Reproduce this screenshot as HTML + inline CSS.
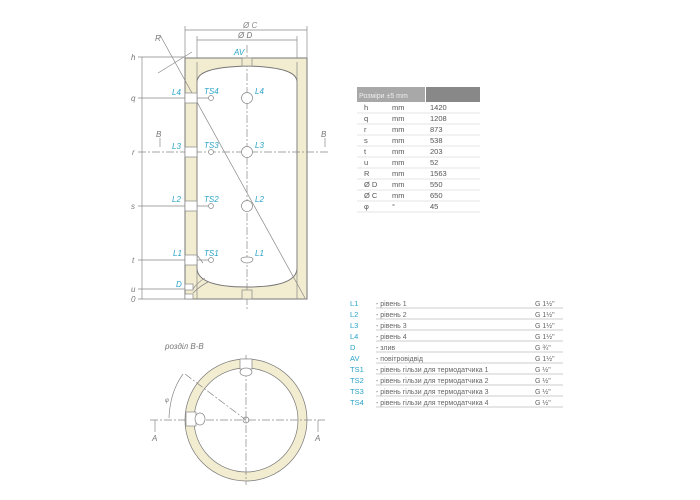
<!DOCTYPE html>
<html><head><meta charset="utf-8"><style>
body{margin:0;background:#fff;width:700px;height:500px;overflow:hidden}
svg{display:block}
text{font-family:"Liberation Sans","DejaVu Sans",sans-serif}
</style></head><body>
<svg width="700" height="500" viewBox="0 0 700 500" xmlns="http://www.w3.org/2000/svg">
<g stroke="#888" stroke-width="0.7" fill="none">
<!-- tank -->
<rect x="185" y="58" width="122" height="241" fill="#f2ecd0" stroke="#777" stroke-width="1"/>
<path d="M197,82 C197,72 212,67 247,66 C282,67 297,72 297,82 L297,268 C297,280 282,287 247,287 C212,287 197,280 197,268 Z" fill="#fff" stroke="#777" stroke-width="1"/>
<line x1="197" y1="62" x2="197" y2="299"/><line x1="297" y1="62" x2="297" y2="299"/>
<line x1="247" y1="45" x2="247" y2="310" stroke-dasharray="8,2,2,2"/>
<rect x="242" y="58" width="10" height="8" fill="#f2ecd0"/>
<rect x="242" y="290" width="10" height="9" fill="#f2ecd0"/>
<!-- dims -->
<line x1="185" y1="30" x2="307" y2="30"/><line x1="185" y1="26" x2="185" y2="58"/><line x1="307" y1="26" x2="307" y2="58"/>
<line x1="197" y1="40" x2="297" y2="40"/><line x1="197" y1="36" x2="197" y2="58"/><line x1="297" y1="36" x2="297" y2="58"/>
<line x1="160" y1="35" x2="305" y2="298"/>
<line x1="158" y1="73" x2="192" y2="52"/>
<line x1="142" y1="57" x2="142" y2="299"/>
<g>
<line x1="138" y1="57" x2="185" y2="57"/><line x1="138" y1="98" x2="210" y2="98"/>
<line x1="138" y1="152" x2="330" y2="152" stroke-dasharray="8,2,2,2"/>
<line x1="138" y1="206" x2="210" y2="206"/><line x1="138" y1="260" x2="210" y2="260"/>
<line x1="138" y1="289" x2="185" y2="289"/><line x1="138" y1="299" x2="185" y2="299"/>
</g>
<!-- side ports -->
<g fill="#fff">
<rect x="185" y="93" width="12" height="10"/><rect x="185" y="147" width="12" height="10"/>
<rect x="185" y="201" width="12" height="10"/><rect x="185" y="255" width="12" height="10"/>
<rect x="185" y="284" width="8" height="6"/><rect x="185" y="294" width="8" height="5"/>
<circle cx="211" cy="98" r="2.5"/><circle cx="211" cy="152" r="2.5"/><circle cx="211" cy="206" r="2.5"/><circle cx="211" cy="260" r="2.5"/>
<circle cx="247" cy="98" r="5.5"/><circle cx="247" cy="152" r="5.5"/><circle cx="247" cy="206" r="5.5"/>
<path d="M241,259 a6,4 0 0 0 12,0 a6,2 0 0 0 -12,0z"/>
</g>
<path d="M193,293 Q200,286 208,282 M193,289 Q198,282 205,278" />
<line x1="197" y1="255" x2="203" y2="263"/>
<!-- section circle -->
<circle cx="246" cy="420" r="61" fill="#f2ecd0" stroke="#777"/>
<circle cx="246" cy="420" r="52" fill="#fff" stroke="#777"/>
<circle cx="246" cy="420" r="3" fill="#fff"/>
<line x1="246" y1="355" x2="246" y2="485" stroke-dasharray="8,2,2,2"/>
<line x1="150" y1="420" x2="325" y2="420" stroke-dasharray="8,2,2,2"/>
<line x1="185" y1="374" x2="246" y2="420" stroke-dasharray="8,2,2,2"/>
<rect x="240" y="359" width="12" height="10" fill="#fff"/>
<ellipse cx="246" cy="372" rx="6" ry="4" fill="#fff"/>
<rect x="186" y="412" width="10" height="14" fill="#fff"/>
<ellipse cx="200" cy="419" rx="5" ry="6" fill="#fff"/>
<path d="M183,374 Q170,392 169,418"/>
<line x1="155" y1="420" x2="155" y2="432"/><line x1="318" y1="420" x2="318" y2="432"/>
<line x1="160" y1="138" x2="160" y2="147"/><line x1="325" y1="138" x2="325" y2="147"/>
</g>
<g font-size="8" font-style="italic" fill="#777">
<text x="243" y="28" fill="#888">Ø C</text><text x="238" y="38">Ø D</text>
<text x="155" y="41">R</text>
<text x="131" y="60">h</text><text x="131" y="101">q</text><text x="132" y="155">r</text>
<text x="131" y="209">s</text><text x="132" y="263">t</text><text x="131" y="292">u</text><text x="131" y="302">0</text>
<text x="156" y="137">B</text><text x="321" y="137">B</text>
<text x="152" y="441">A</text><text x="315" y="441">A</text>
<text x="165" y="349">розділ B-B</text>
<text x="165" y="402" font-size="6">φ</text>
</g>
<g font-size="8" font-style="italic" fill="#29a3c7">
<text x="234" y="55">AV</text>
<text x="172" y="95">L4</text><text x="204" y="94">TS4</text><text x="255" y="94">L4</text>
<text x="172" y="149">L3</text><text x="204" y="148">TS3</text><text x="255" y="148">L3</text>
<text x="172" y="202">L2</text><text x="204" y="202">TS2</text><text x="255" y="202">L2</text>
<text x="173" y="256">L1</text><text x="204" y="256">TS1</text><text x="255" y="256">L1</text>
<text x="176" y="287">D</text>
</g>
<!-- table -->
<rect x="357" y="87" width="68" height="15" fill="#a8a8a8"/>
<rect x="426" y="87" width="54" height="15" fill="#888"/>
<text x="359" y="98" font-size="7" fill="#eee">Розміри ±5 mm</text>
<g font-size="7.5" fill="#555">
<g stroke="#ccc" stroke-width="0.6">
<line x1="357" y1="113" x2="480" y2="113"/><line x1="357" y1="124" x2="480" y2="124"/><line x1="357" y1="135" x2="480" y2="135"/>
<line x1="357" y1="146" x2="480" y2="146"/><line x1="357" y1="157" x2="480" y2="157"/><line x1="357" y1="168" x2="480" y2="168"/>
<line x1="357" y1="179" x2="480" y2="179"/><line x1="357" y1="190" x2="480" y2="190"/><line x1="357" y1="201" x2="480" y2="201"/>
<line x1="357" y1="212" x2="480" y2="212"/>
</g>
<text x="364" y="110">h</text><text x="392" y="110">mm</text><text x="430" y="110">1420</text>
<text x="364" y="121">q</text><text x="392" y="121">mm</text><text x="430" y="121">1208</text>
<text x="364" y="132">r</text><text x="392" y="132">mm</text><text x="430" y="132">873</text>
<text x="364" y="143">s</text><text x="392" y="143">mm</text><text x="430" y="143">538</text>
<text x="364" y="154">t</text><text x="392" y="154">mm</text><text x="430" y="154">203</text>
<text x="364" y="165">u</text><text x="392" y="165">mm</text><text x="430" y="165">52</text>
<text x="364" y="176">R</text><text x="392" y="176">mm</text><text x="430" y="176">1563</text>
<text x="364" y="187">Ø D</text><text x="392" y="187">mm</text><text x="430" y="187">550</text>
<text x="364" y="198">Ø C</text><text x="392" y="198">mm</text><text x="430" y="198">650</text>
<text x="364" y="209">φ</text><text x="392" y="209">°</text><text x="430" y="209">45</text>
</g>
<!-- legend -->
<g stroke="#bbb" stroke-width="0.7">
<line x1="376" y1="308" x2="563" y2="308"/><line x1="376" y1="319" x2="563" y2="319"/><line x1="376" y1="330" x2="563" y2="330"/>
<line x1="376" y1="341" x2="563" y2="341"/><line x1="376" y1="352" x2="563" y2="352"/><line x1="376" y1="363" x2="563" y2="363"/>
<line x1="376" y1="374" x2="563" y2="374"/><line x1="376" y1="385" x2="563" y2="385"/><line x1="376" y1="396" x2="563" y2="396"/>
<line x1="376" y1="407" x2="563" y2="407"/>
</g>
<g font-size="7.5" fill="#29a3c7">
<text x="350" y="306">L1</text><text x="350" y="317">L2</text><text x="350" y="328">L3</text><text x="350" y="339">L4</text>
<text x="350" y="350">D</text><text x="350" y="361">AV</text><text x="350" y="372">TS1</text><text x="350" y="383">TS2</text>
<text x="350" y="394">TS3</text><text x="350" y="405">TS4</text>
</g>
<g font-size="7" fill="#666">
<text x="376" y="306">- рівень 1</text><text x="376" y="317">- рівень 2</text><text x="376" y="328">- рівень 3</text><text x="376" y="339">- рівень 4</text>
<text x="376" y="350">- злив</text><text x="376" y="361">- повітровідвід</text>
<text x="376" y="372">- рівень гільзи для термодатчика 1</text><text x="376" y="383">- рівень гільзи для термодатчика 2</text>
<text x="376" y="394">- рівень гільзи для термодатчика 3</text><text x="376" y="405">- рівень гільзи для термодатчика 4</text>
<text x="535" y="306">G 1½"</text><text x="535" y="317">G 1½"</text><text x="535" y="328">G 1½"</text><text x="535" y="339">G 1½"</text>
<text x="535" y="350">G ¾"</text><text x="535" y="361">G 1½"</text><text x="535" y="372">G ½"</text><text x="535" y="383">G ½"</text>
<text x="535" y="394">G ½"</text><text x="535" y="405">G ½"</text>
</g>
</svg>
</body></html>
